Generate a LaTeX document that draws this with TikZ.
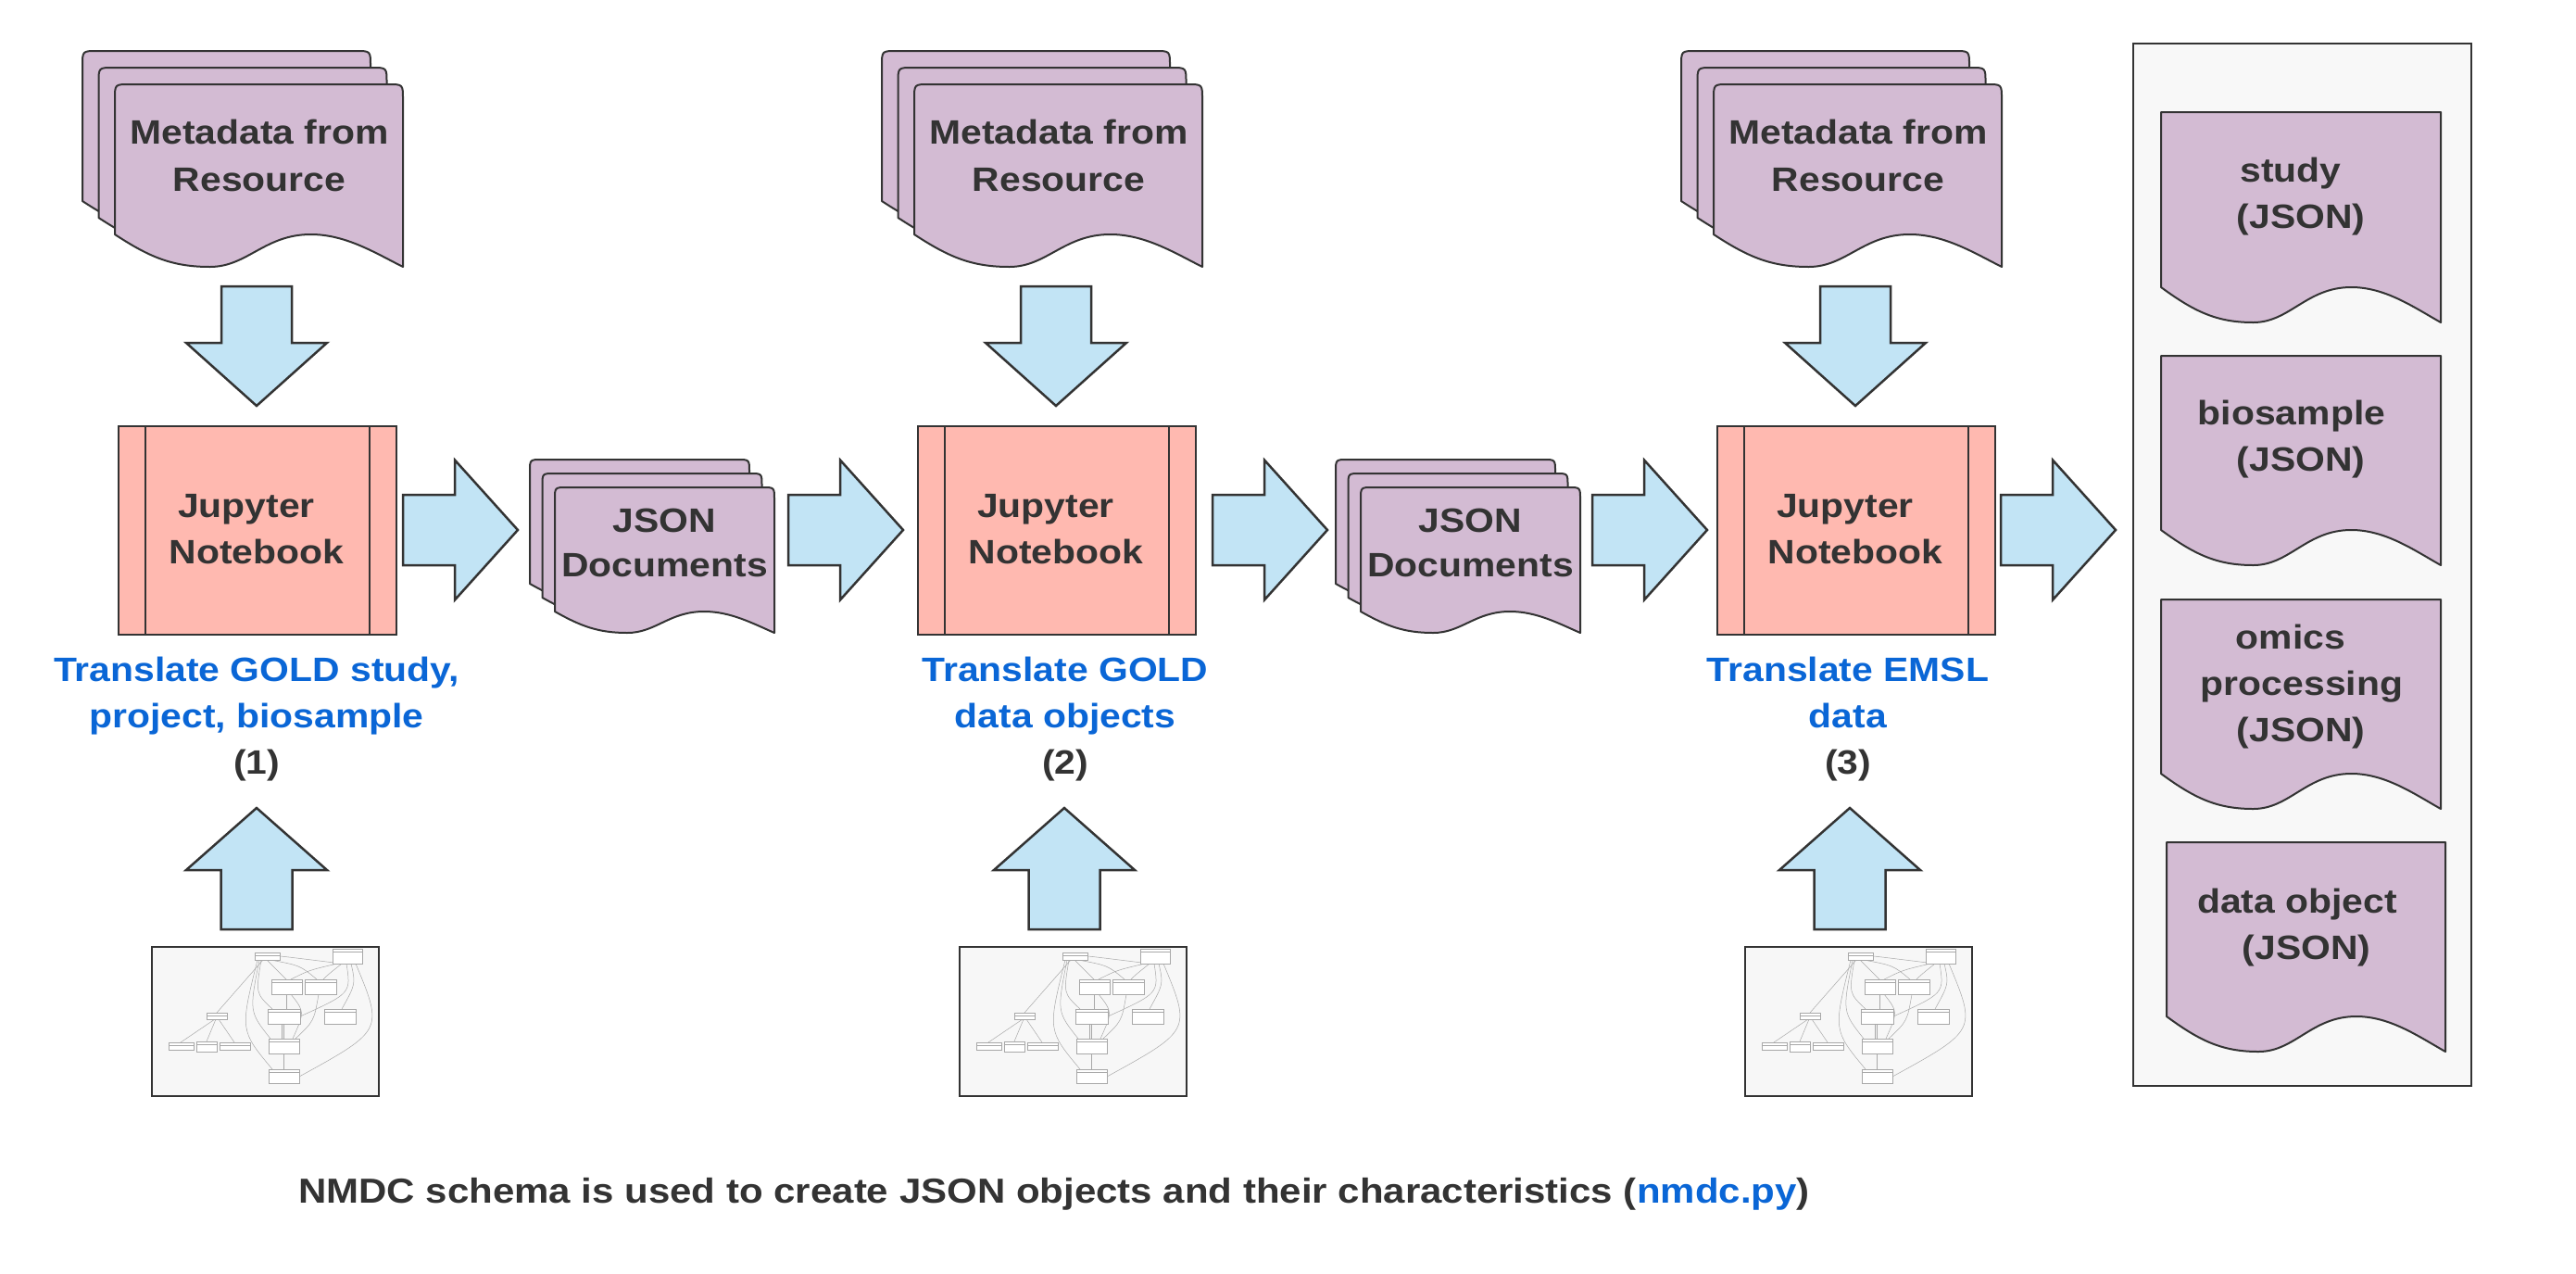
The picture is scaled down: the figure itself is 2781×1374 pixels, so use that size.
\documentclass[tikz,border=0pt]{standalone}
\usepackage{fontspec}
\setmainfont{Liberation Sans}[FakeStretch=1.12]
\definecolor{ink}{HTML}{333333}
\definecolor{docfill}{HTML}{D3BBD3}
\definecolor{nbfill}{HTML}{FFB9B0}
\definecolor{arrfill}{HTML}{C2E4F5}
\definecolor{lblue}{HTML}{0A66D6}
\definecolor{panelfill}{HTML}{F8F8F8}
\definecolor{thumbfill}{HTML}{F7F7F7}
\definecolor{thumbline}{HTML}{A8A8A8}

% document shape: style, x, y, w, left height, right height, corner radius
\newcommand{\docshape}[7]{%
  \filldraw[#1] (#2,#3+#5) -- (#2,#3+#7) .. controls (#2,#3) .. (#2+#7,#3)
   -- (#2+#4-#7,#3) .. controls (#2+#4,#3) .. (#2+#4,#3+#7)
   -- (#2+#4,#3+#6)
   .. controls (#2+0.9*#4,#3+#5+0.55*#6-0.55*#5) and (#2+0.8*#4,#3+#5) .. (#2+0.68*#4,#3+#5)
   .. controls (#2+0.52*#4,#3+#5) and (#2+0.46*#4,#3+#6) .. (#2+0.33*#4,#3+#6)
   .. controls (#2+0.2*#4,#3+#6) and (#2+0.12*#4,#3+#5+0.7*#6-0.7*#5) .. (#2,#3+#5)
   -- cycle;}
\newcommand{\rightarr}[2]{%
  \filldraw[barrow] (#1,#2-38) -- (#1+56,#2-38) -- (#1+56,#2-75.5) -- (#1+124,#2)
   -- (#1+56,#2+75.5) -- (#1+56,#2+38) -- (#1,#2+38) -- cycle;}
\newcommand{\downarr}[2]{%
  \filldraw[barrow] (#1-38,#2) -- (#1+38,#2) -- (#1+38,#2+61) -- (#1+76,#2+61)
   -- (#1,#2+129) -- (#1-76,#2+61) -- (#1-38,#2+61) -- cycle;}
\newcommand{\uparr}[2]{%
  \filldraw[barrow] (#1,#2) -- (#1+76,#2+67) -- (#1+38.5,#2+67) -- (#1+38.5,#2+131)
   -- (#1-38.5,#2+131) -- (#1-38.5,#2+67) -- (#1-76,#2+67) -- cycle;}
\newcommand{\tbox}[4]{%
  \draw[thumbline, line width=0.7pt, fill=white] (#1,#2) rectangle (#3,#4);
  \draw[thumbline, line width=0.4pt] (#1,#2+3) -- (#3,#2+3);}
\newcommand{\thumbnail}[3]{%
  \begin{scope}[shift={(#1,#2)}]
    \filldraw[fill=thumbfill, draw=ink, line width=2.5pt] (0,0) rectangle (245,161);
    \begin{scope}[thumbline, line width=0.5pt]
      \draw (120,14) -- (70,71);
      \draw (68,78) -- (31,103); \draw (69,78) -- (59,102); \draw (72,78) -- (89,103);
      \draw (124,14) -- (145,35);
      \draw (128,14) .. controls (160,20) .. (178,35);
      \draw (118,14) .. controls (112,50) .. (130,67);
      \draw (116,14) .. controls (105,70) .. (128,99);
      \draw (114,14) .. controls (95,90) .. (130,132);
      \draw (200,18) .. controls (170,25) .. (150,35);
      \draw (205,18) .. controls (190,30) .. (185,35);
      \draw (210,18) .. controls (215,50) .. (160,75);
      \draw (215,18) .. controls (220,40) .. (205,67);
      \draw (220,18) .. controls (250,90) .. (159,140);
      \draw (205,18) .. controls (140,10) .. (138,10);
      \draw (145,51) -- (145,67); \draw (150,51) .. controls (165,70) .. (152,99);
      \draw (180,51) .. controls (175,80) .. (155,99);
      \draw (140,83) -- (140,99); \draw (142,83) -- (142,99);
      \draw (142,115) -- (142,132);
    \end{scope}
    \tbox{111}{6}{138}{14}
    \tbox{195}{2}{227}{18}
    \tbox{129}{35}{162}{51}
    \tbox{165}{35}{199}{51}
    \tbox{125}{67}{160}{83}
    \tbox{186}{67}{220}{83}
    \tbox{59}{71}{81}{78}
    \tbox{18}{103}{45}{111}
    \tbox{48}{102}{70}{113}
    \tbox{73}{103}{106}{111}
    \tbox{126}{99}{159}{115}
    \tbox{126}{132}{159}{147}
    \node[inner sep=0pt] (#3) at (122.5,80.5) {};
  \end{scope}}

\begin{document}
\begin{tikzpicture}[x=1pt,y=-1pt,
  docst/.style={fill=docfill, draw=ink, line width=2pt, line join=round},
  nbbox/.style={fill=nbfill, draw=ink, line width=2pt, minimum width=300pt, minimum height=225pt, anchor=north west, inner sep=0pt},
  barrow/.style={fill=arrfill, draw=ink, line width=2.5pt, line join=miter},
  lbl/.style={font=\fontsize{36.5}{50}\selectfont\bfseries, text=ink, align=center, inner sep=0pt, anchor=base},
  bluelbl/.style={lbl, text=lblue}]
\useasboundingbox (0,0) rectangle (2781,1374);

% three columns
\foreach \dx/\n in {0/1, 863/2, 1726/3}{
  \docshape{docst}{89+\dx}{55}{311}{162}{197}{16}
  \docshape{docst}{106.5+\dx}{73}{311}{162}{197}{16}
  \docshape{docst}{124+\dx}{91}{311}{162}{197}{16}
  \node[lbl, font=\fontsize{36.5}{51}\selectfont\bfseries] (meta\n) at (280+\dx,206) {Metadata from\\Resource};
  \downarr{277+\dx}{309}
  \node[nbbox] (nb\n) at (127+\dx,459) {};
  \draw[ink, line width=2pt] ([xshift=30pt]nb\n.north west) -- ([xshift=30pt]nb\n.south west);
  \draw[ink, line width=2pt] ([xshift=-30pt]nb\n.north east) -- ([xshift=-30pt]nb\n.south east);
  \node[lbl] (nbt\n) at (277+\dx,608) {Jupyter\hspace*{22pt}\\Notebook};
}

% JSON document stacks
\foreach \dx/\n in {0/1, 870/2}{
  \docshape{docst}{572+\dx}{496}{237}{134}{157}{13}
  \docshape{docst}{585.5+\dx}{511}{237}{134}{157}{13}
  \docshape{docst}{599+\dx}{526}{237}{134}{157}{13}
  \node[lbl, font=\fontsize{36.5}{48}\selectfont\bfseries] (json\n) at (717.5+\dx,622) {JSON\\Documents};
}

% right arrows
\rightarr{435}{572}
\rightarr{851}{572}
\rightarr{1309}{572}
\rightarr{1719}{572}
\rightarr{2160}{572}

% labels
\node[bluelbl] (lab1) at (277,835) {Translate GOLD study,\\project, biosample\\\textcolor{ink}{(1)}};
\node[bluelbl] (lab2) at (1150,835) {Translate GOLD\\data objects\\\textcolor{ink}{(2)}};
\node[bluelbl] (lab3) at (1995,835) {Translate EMSL\\data\\\textcolor{ink}{(3)}};

% up arrows and schema thumbnails
\uparr{277}{872}
\uparr{1149}{872}
\uparr{1997}{872}
\thumbnail{164}{1022}{th1}
\thumbnail{1036}{1022}{th2}
\thumbnail{1884}{1022}{th3}

% output panel
\filldraw[fill=panelfill, draw=ink, line width=2.5pt] (2303,47) rectangle (2668,1172);
\node[inner sep=0pt] (panel) at (2485.5,609.5) {};
\docshape{docst}{2333}{121}{302}{189}{227}{0}
\docshape{docst}{2333}{384}{302}{188}{226}{0}
\docshape{docst}{2333}{647}{302}{188}{226}{0}
\docshape{docst}{2339}{909}{301}{188}{226}{0}
\node[lbl] (study) at (2484,246) {study\hspace*{22pt}\\(JSON)};
\node[lbl] (biosample) at (2484,508) {biosample\hspace*{20pt}\\(JSON)};
\node[lbl] (omics) at (2484,800) {omics\hspace*{22pt}\\\hspace*{2pt}processing\\(JSON)};
\node[lbl] (dataobj) at (2490,1035) {data object\hspace*{20pt}\\(JSON)};

% footer
\node[lbl, anchor=base west, font=\fontsize{37.5}{44}\selectfont\bfseries] (footer) at (322,1298)
  {NMDC schema is used to create JSON objects and their characteristics (\textcolor{lblue}{nmdc.py})};
\end{tikzpicture}
\end{document}
